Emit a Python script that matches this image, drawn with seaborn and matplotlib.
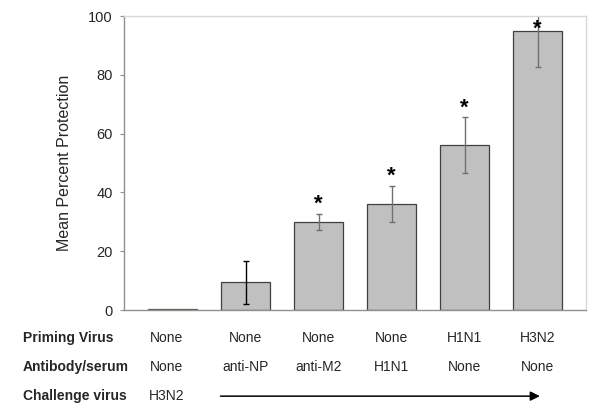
import matplotlib
matplotlib.use("Agg")
import matplotlib.pyplot as plt
import seaborn as sns
import pandas as pd

sns.set_style("white")
plt.rcParams['font.family'] = ['Liberation Sans', 'DejaVu Sans']

# data
groups = ['g1', 'g2', 'g3', 'g4', 'g5', 'g6']
protection = [0.3, 9.5, 30, 36, 56, 95]
err = [0, 7.3, 2.7, 6.1, 9.5, 12.5]
significant = [False, False, True, True, True, True]
priming = ['None', 'None', 'None', 'None', 'H1N1', 'H3N2']
antibody = ['None', 'anti-NP', 'anti-M2', 'H1N1', 'None', 'None']
challenge = 'H3N2'

df = pd.DataFrame({'group': groups, 'protection': protection})

fig = plt.figure(figsize=(6, 4.16), dpi=100)
ax = fig.add_axes([0.2067, 0.2548, 0.77, 0.7067])

sns.barplot(data=df, x='group', y='protection', color='#c0c0c0',
            edgecolor='#404040', linewidth=0.9, width=0.68,
            saturation=1, errorbar=None, ax=ax)
# first bar is barely visible, drawn with a darker olive edge
ax.patches[0].set_edgecolor('#5c5c44')

# error bars
for i, (v, e) in enumerate(zip(protection, err)):
    if e == 0:
        continue
    c = 'black' if i == 1 else '#707070'
    ax.errorbar(i, v, yerr=e, fmt='none', ecolor=c, elinewidth=1,
                capsize=2.5, capthick=1)

# significance stars
for i, (v, e, s) in enumerate(zip(protection, err, significant)):
    if s:
        y = min(v + e - 0.3, 92)
        ax.text(i, y, '*', ha='center', va='bottom', fontsize=16,
                fontweight='bold', color='black')

ax.set_xlim(-0.664, 5.664)
ax.set_ylim(0, 100)
ax.set_yticks([0, 20, 40, 60, 80, 100])
ax.set_xticks([])
ax.set_xlabel('')
ax.set_ylabel('Mean Percent Protection', fontsize=11.5, labelpad=12)
ax.tick_params(axis='y', which='both', left=True, length=3, width=0.8,
               color='#909090', labelsize=10.5, pad=5)

for side in ['left', 'bottom']:
    ax.spines[side].set_color('#909090')
    ax.spines[side].set_linewidth(1)
for side in ['top', 'right']:
    ax.spines[side].set_visible(True)
    ax.spines[side].set_color('#d8d8d8')
    ax.spines[side].set_linewidth(1)

# table below the axis
tr = ax.get_xaxis_transform()
rows_y = [-0.095, -0.194, -0.293]
fig.text(23 / 600, 1 - 338 / 416, 'Priming Virus', fontsize=10,
         fontweight='bold', va='center', ha='left')
fig.text(23 / 600, 1 - 367 / 416, 'Antibody/serum', fontsize=10,
         fontweight='bold', va='center', ha='left')
fig.text(23 / 600, 1 - 396 / 416, 'Challenge virus', fontsize=10,
         fontweight='bold', va='center', ha='left')
for i, (p, a) in enumerate(zip(priming, antibody)):
    ax.text(i - (0.08 if i == 0 else 0), rows_y[0], p, transform=tr,
            ha='center', va='center', fontsize=10, clip_on=False)
    ax.text(i - (0.08 if i == 0 else 0), rows_y[1], a, transform=tr,
            ha='center', va='center', fontsize=10, clip_on=False)
fig.text(167 / 600, 1 - 396 / 416, challenge, fontsize=10,
         va='center', ha='center')

# arrow along challenge row
ax.annotate('', xy=(5.07, rows_y[2]), xycoords=tr,
            xytext=(0.62, rows_y[2]), textcoords=tr,
            arrowprops=dict(arrowstyle='-|>', color='black', lw=1.1,
                            mutation_scale=14),
            annotation_clip=False)

fig.savefig('out.png', dpi=100)
